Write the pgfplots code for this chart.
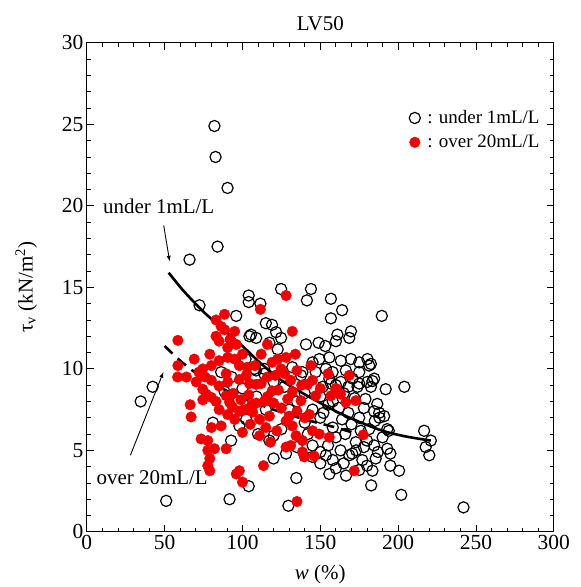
\documentclass[border=0pt]{standalone}
\usepackage{pgfplots}
\pgfplotsset{compat=1.18}
\usepackage{fontspec}
\setmainfont{Liberation Serif}
\usetikzlibrary{calc}
\definecolor{myred}{RGB}{245,0,0}
\pgfplotstableread{
x y
82 24.9
82.7 23.0
90.4 21.1
84 17.5
66 16.7
72.4 13.9
34.6 8.0
42.3 8.9
51 1.9
91.7 2.0
104 2.8
129.5 1.6
134.6 3.3
155.8 3.55
166.5 3.45
182.7 2.85
202 2.27
242 1.5
189.5 13.25
104 14.5
104 14.1
111.5 14.0
124.8 14.9
144 14.9
141.4 14.2
156.8 14.3
164 13.6
156.8 13.1
96 13.25
115 12.8
119 12.7
121.6 12.25
124.8 11.9
108.8 11.9
117.3 11.6
122.6 11.2
104.5 12.0
105.5 12.1
148.9 11.6
153.2 11.4
160 11.7
161 12.1
169.7 12.3
168.6 11.9
149.4 10.6
155.8 10.7
163.2 10.5
169.7 10.6
175 10.4
180.3 10.6
181.4 10.2
153.6 10.0
157.9 9.8
166.4 9.9
151.5 8.9
156.8 9.1
163.2 9.2
170.7 9.4
175 9.1
180.3 9.2
184.6 9.4
192 8.75
204 8.9
173.9 8.9
140.8 11.5
145 10.4
138.5 9.8
132 10.1
114 10.0
107.7 10.0
102 10.6
108.7 9.9
86.3 9.8
88.5 8.6
96.8 7.95
102.4 6.9
98 6.5
81 6.7
92.7 5.6
117.3 5.6
120 5.9
114 9.7
137.6 9.6
127 8.9
135 8.0
145 7.5
150 7.0
140 6.7
125 6.3
110 6.0
145 5.3
150 4.9
155 5.3
160 5.8
155.8 9.4
160 9.0
165 8.5
158 8.0
162 7.6
168 7.3
164 6.9
170 6.6
175 7.0
178 7.6
172.8 5.5
168.6 4.7
173 5.0
178 5.2
153.6 4.7
158 4.4
163 5.0
166 6.0
158 6.4
170.5 4.8
180 4.06
185.6 4.5
195 4.06
200.6 3.75
183.5 3.75
182.5 10.3
175 9.8
183.5 9.25
182.5 8.9
179 8.15
186.6 7.85
184.6 7.4
191 7.1
188 7.0
193 6.3
181.4 6.3
184.6 5.3
193 5.1
195 4.8
187.8 7.3
194 6.2
216.7 6.2
221 5.6
217.7 5.2
220 4.7
190 5.8
185 6.8
176 6.2
180 5.6
187 4.9
177 4.4
175 3.8
165 4.2
160 3.9
150 4.2
145 4.6
172 8.2
168 8.9
150 8.3
155 7.8
140 8.5
130 7.5
142 6.0
135 5.2
128 4.8
120 4.5
115 7.5
109 8.3
100 8.8
93 9.5
120 9.2
147 9.8
152 7.3
}\undertable
\pgfplotstableread{
x y
88.5 13.35
83 13.0
86.3 12.6
95 12.3
88.5 12.4
58.5 11.75
83 12.0
85 11.7
90.5 11.3
79 10.9
69 10.6
85 10.5
90.5 10.7
95 10.6
100 10.9
98 10.2
80 10.2
74.5 10.0
58.5 10.2
58.3 9.5
64 9.5
89.5 9.7
103 10.1
128 14.5
111.5 13.65
132 12.3
116 11.5
112 10.9
122.6 10.6
128 10.7
134 10.9
119 10.4
124.8 10.0
127 9.7
168.6 9.6
70.3 9.2
74.5 8.75
76.7 8.45
80 8.25
74.5 8.1
66.4 7.8
67 7.05
89.5 8.35
91.7 7.95
93.6 7.65
90.5 7.2
98 7.4
102 7.5
106 7.8
98 9.35
102.4 9.6
104.5 9.1
90.5 9.2
85 8.95
80 9.3
80 6.4
86.3 6.5
73.4 5.7
77.7 5.6
82 5.1
77.7 5.0
89.5 5.1
79 4.5
77.7 4.06
79 3.75
98 3.75
96 3.55
100 3.05
113.5 4.06
135 1.86
171.8 3.75
177.6 5.95
172.8 8.05
128 5.2
131 5.3
139.7 4.6
146 4.65
155.8 5.8
108.7 9.05
112 9.1
119 8.65
123 8.7
116 8.3
129 8.15
132 8.6
137.6 8.05
141.8 9.05
138 9.0
147 8.35
156.8 8.35
163 8.45
166.4 7.95
106.6 7.35
111 6.9
117.3 7.1
130 7.1
132 6.5
134.4 5.9
138.5 5.6
145 6.2
149.4 6.0
111 5.9
115 6.4
138.5 4.9
143 7.2
125 7.6
120 7.9
135 7.4
140 7.0
128 6.8
122 6.2
118 5.5
105 6.6
100 6.1
95 6.9
85 7.5
83 8.0
76 9.5
72 9.8
94 8.5
99 8.1
104 8.4
109 7.9
114 8.0
96 11.5
92 11.8
108 10.2
116 9.5
121 9.6
131 9.3
135 9.9
145 9.3
150 8.8
160 8.8
144 10.2
155 9.7
}\overtable
\begin{document}
\begin{tikzpicture}
\begin{axis}[
  scale only axis,
  width=468pt, height=490pt,
  xmin=0, xmax=300, ymin=0, ymax=30,
  xtick={0,50,...,300}, ytick={0,5,...,30},
  minor x tick num=4, minor y tick num=4,
  tick align=inside,
  major tick length=7pt, minor tick length=4pt,
  xtick pos=both, ytick pos=both,
  every tick/.style={black, line width=0.8pt},
  axis line style={line width=1pt},
  tick label style={font=\fontsize{21.5}{23}\selectfont},
  /pgf/number format/assume math mode=true,
  title={LV50},
  title style={font=\fontsize{21}{23}\selectfont, yshift=3pt},
  xlabel={\textit{w} (\%)},
  ylabel={τ\textsubscript{v} (kN/m\textsuperscript{2})},
  label style={font=\fontsize{21}{23}\selectfont},
  xlabel style={yshift=-8pt},
  ylabel style={yshift=18pt},
  legend style={draw=none, fill=none, at={(0.69,0.87)}, anchor=north west,
    font=\fontsize{19}{21}\selectfont, row sep=6pt,
    legend cell align=left, inner xsep=0pt},
  legend image code/.code={\draw[#1] (0.1cm,0cm) plot coordinates {(0.1cm,0cm)};},
  clip=false,
]
\addplot[only marks, mark=o, mark size=5.6pt, mark options={draw=black, line width=1.2pt}] table {\undertable};
\addlegendentry{\hspace{5pt}: under 1mL/L}
\addplot[only marks, mark=*, mark size=5.3pt, mark options={draw=myred, fill=myred}] table {\overtable};
\addlegendentry{\hspace{5pt}: over 20mL/L}
\addplot[smooth, line width=2.6pt, black, forget plot] coordinates {
(52.6,15.9) (62,14.8) (75,13.5) (88,12.4) (100,11.4) (111,10.4) (125,9.3) (137,8.6) (149,7.96) (162,7.3) (175,6.75) (190,6.2) (205,5.85) (221,5.6)};
\addplot[smooth, line width=2.6pt, black, dash pattern=on 11pt off 7pt, forget plot] coordinates {
(50,11.4) (60,10.5) (70,9.75) (85,8.9) (100,8.2) (120,7.5) (140,6.9) (160,6.4) (174,6.0)};
\node[font=\fontsize{21}{23}\selectfont] at (axis cs:46.2,20.0) {under 1mL/L};
\draw[-latex, line width=0.9pt] (axis cs:49.4,18.8) -- (axis cs:53.2,16.6);
\node[font=\fontsize{21}{23}\selectfont] at (axis cs:42,3.3) {over 20mL/L};
\draw[-latex, line width=0.9pt] (axis cs:28,4.7) -- (axis cs:49.2,9.8);
\end{axis}
\path ($(current axis.south west)+(-87pt,-54pt)$) rectangle ($(current axis.north east)+(27pt,43pt)$);
\end{tikzpicture}
\end{document}
